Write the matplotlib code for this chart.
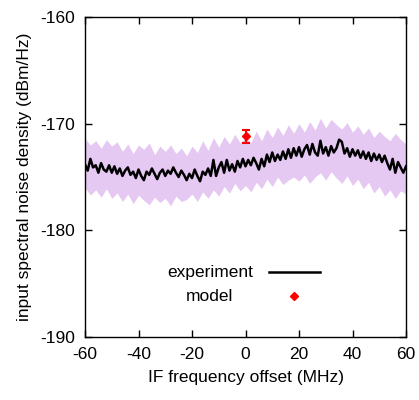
import matplotlib.pyplot as plt
import numpy as np

plt.rcParams['font.family'] = ['Liberation Sans', 'DejaVu Sans']
plt.rcParams['font.size'] = 12.5
plt.rcParams['axes.unicode_minus'] = False

# measured noise density, 1 MHz steps from -60 to 60 MHz
freq = np.arange(-60, 61, 1)
experiment = [
    -173.8, -174.4, -173.3, -174.1, -173.9, -174.6, -173.7, -174.3, -174.5, -173.9,
    -174.6, -174.0, -174.7, -174.2, -174.9, -174.4, -174.1, -174.8, -174.5, -175.1,
    -174.3, -174.9, -175.3, -174.5, -174.8, -174.2, -174.7, -175.2, -174.6, -174.3,
    -174.9, -174.4, -174.7, -174.1, -174.6, -175.0, -174.4, -174.8, -175.3, -174.7,
    -175.1, -174.3, -174.9, -175.4, -174.5, -174.8, -174.2, -174.9, -173.4, -174.9,
    -174.1, -173.6, -174.6, -173.4, -174.4, -173.8, -174.5, -173.5, -174.1, -173.3,
    -174.0, -173.4, -173.9, -173.2, -173.7, -174.3, -173.3, -174.0, -172.9, -173.6,
    -172.7, -173.5, -172.9, -173.4, -172.6, -173.3, -172.4, -173.2, -172.3, -173.0,
    -172.2, -173.1, -172.4, -172.0, -172.9, -171.9, -172.7, -173.0, -171.6, -172.8,
    -172.2, -173.0, -172.1, -172.7, -172.3, -171.5, -171.7, -172.8, -172.3, -173.1,
    -172.4, -173.0, -172.5, -173.2, -172.6, -173.3, -172.7, -173.5, -172.8, -173.4,
    -172.9, -173.6, -173.0, -173.7, -174.3, -173.3, -174.6, -173.6, -174.1, -174.6,
    -174.0,
]

# uncertainty band, 2 MHz steps
band_freq = np.arange(-60, 61, 2)
band_upper = [
    -171.4, -172.0, -171.6, -172.3, -171.5, -172.1, -171.7, -172.6, -171.9, -172.8,
    -172.0, -172.4, -171.8, -172.9, -172.1, -172.6, -172.0, -172.8, -172.3, -173.0,
    -172.1, -172.7, -171.6, -172.5, -171.3, -172.2, -171.2, -171.9, -171.0, -171.8,
    -171.3, -171.8, -170.7, -171.6, -170.5, -171.3, -170.3, -171.1, -170.1, -170.9,
    -170.0, -170.8, -169.8, -170.6, -169.5, -170.4, -169.6, -170.1, -170.5, -169.9,
    -170.8, -170.2, -171.0, -170.4, -171.3, -170.7, -171.2, -171.6, -170.9, -171.5,
    -171.9,
]
band_lower = [
    -176.0, -176.7, -176.2, -176.9, -176.1, -177.0, -176.5, -177.3, -176.6, -177.5,
    -176.7, -177.2, -177.6, -176.9, -177.4, -177.0, -177.7, -176.8, -177.3, -177.1,
    -176.6, -177.3, -176.4, -177.0, -176.2, -176.8, -175.9, -176.5, -175.6, -176.3,
    -175.8, -176.4, -175.5, -176.1, -175.2, -175.9, -175.0, -175.7, -175.3, -175.0,
    -175.4, -174.8, -175.6, -175.0, -174.6, -175.3, -174.5, -175.1, -175.6, -174.9,
    -175.8, -175.2, -176.1, -175.5, -176.5, -175.9, -176.8, -176.2, -177.0, -176.3,
    -176.6,
]

# model point
model_freq = [0]
model_value = [-171.2]
model_err = [0.6]

fig = plt.figure(figsize=(4.19, 4.0), dpi=100)
ax = fig.add_axes([0.2029, 0.1575, 0.7661, 0.8])

ax.fill_between(band_freq, band_lower, band_upper, color='#e6c9f3', lw=0)
ax.plot(freq, experiment, color='black', lw=1.8)
ax.errorbar(model_freq, model_value, yerr=model_err, fmt='D', color='red',
            ms=4.5, capsize=3, elinewidth=1.5, capthick=1.5)

ax.set_xlim(-60, 60)
ax.set_ylim(-190, -160)
ax.set_xticks(np.arange(-60, 61, 20))
ax.set_yticks(np.arange(-190, -159, 10))
ax.tick_params(direction='in', top=True, right=True, length=5, width=1, pad=7)
for s in ax.spines.values():
    s.set_linewidth(1)

ax.set_xlabel('IF frequency offset (MHz)', labelpad=6)
ax.set_ylabel('input spectral noise density (dBm/Hz)', labelpad=6)

# gnuplot-style key
ax.text(0.389, 0.203, 'experiment', transform=ax.transAxes, ha='center', va='center')
ax.plot([0.573, 0.732], [0.203, 0.203], transform=ax.transAxes, color='black', lw=1.8)
ax.text(0.389, 0.128, 'model', transform=ax.transAxes, ha='center', va='center')
ax.plot([0.651], [0.128], 'D', transform=ax.transAxes, color='red', ms=4.5)

fig.savefig('out.png', dpi=100)
